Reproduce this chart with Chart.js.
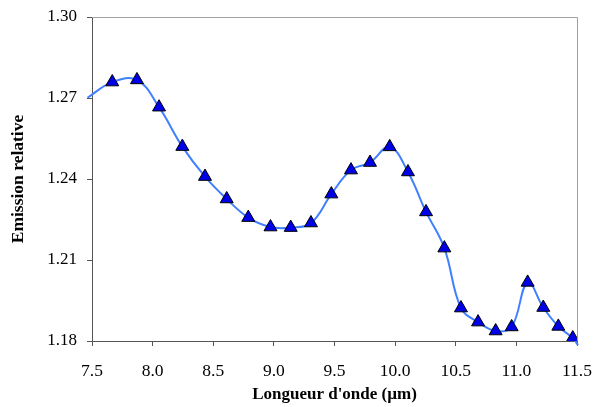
<!DOCTYPE html>
<html>
<head>
<meta charset="utf-8">
<script src="https://cdn.jsdelivr.net/npm/chart.js@4.4.1/dist/chart.umd.min.js"></script>
<style>
  html, body { margin: 0; padding: 0; background: #fff; }
  #wrap { width: 599px; height: 407px; }
</style>
</head>
<body>
<div id="wrap"><canvas id="chart-emission"></canvas></div>
<script>
/* données */
const longueurs = [7.667, 7.871, 8.053, 8.245, 8.432, 8.611, 8.789, 8.972, 9.139, 9.306,
                   9.474, 9.636, 9.793, 9.955, 10.106, 10.255, 10.406, 10.543, 10.684, 10.829,
                   10.961, 11.093, 11.222, 11.346, 11.465];
const emission  = [1.2759, 1.2767, 1.2666, 1.2520, 1.2409, 1.2326, 1.2257, 1.2222, 1.2220, 1.2237,
                   1.2344, 1.2433, 1.2461, 1.2519, 1.2426, 1.2278, 1.2144, 1.1922, 1.1870, 1.1837,
                   1.1852, 1.2017, 1.1924, 1.1854, 1.1811];
// extrémités de la courbe lissée (sans marqueur)
const courbeDebut = [7.463, 1.2701];
const courbeFin   = [11.508, 1.1785];

const yTicks = [1.18, 1.21, 1.24, 1.27, 1.30];
const xMin = 7.5, xMax = 11.5, xStep = 0.5;

const FONT = "'Liberation Serif', 'Times New Roman', serif";

const points = longueurs.map((x, i) => ({ x, y: emission[i] }));
const courbe = [{ x: courbeDebut[0], y: courbeDebut[1] }, ...points, { x: courbeFin[0], y: courbeFin[1] }];

/* ─── cadre haut / droite ─── */
const cadre = {
  id: 'cadre',
  beforeDatasetsDraw(chart) {
    const { ctx, chartArea: a } = chart;
    ctx.save();
    ctx.strokeStyle = '#a0a0a0';
    ctx.lineWidth = 1;
    ctx.beginPath();
    ctx.moveTo(a.left, a.top + 0.5);
    ctx.lineTo(a.right + 0.5, a.top + 0.5);
    ctx.lineTo(a.right + 0.5, a.bottom);
    ctx.stroke();
    ctx.restore();
  }
};

new Chart(document.getElementById('chart-emission'), {
  type: 'scatter',
  data: {
    datasets: [
      {
        label: 'courbe',
        data: courbe,
        showLine: true,
        borderColor: '#4080ff',
        borderWidth: 2,
        pointRadius: 0,
        tension: 0.4,
        clip: false,
        order: 2,
      },
      {
        label: 'mesures',
        data: points,
        pointStyle: 'triangle',
        pointRadius: 7.5,
        backgroundColor: '#0000e8',
        borderColor: '#000',
        borderWidth: 1,
        order: 1,
      }
    ]
  },
  options: {
    responsive: true,
    maintainAspectRatio: false,
    animation: false,
    layout: { padding: { left: 0, top: 17, right: 22, bottom: 1 } },
    plugins: { legend: { display: false }, tooltip: { enabled: false } },
    scales: {
      x: {
        type: 'linear',
        min: xMin, max: xMax,
        grid: { display: true, drawOnChartArea: false, drawTicks: true, tickLength: 5, color: '#555' },
        border: { color: '#555', width: 1 },
        ticks: {
          stepSize: xStep,
          padding: 15,
          color: '#000',
          font: { family: FONT, size: 17.5 },
          callback: v => v.toFixed(1)
        },
        title: {
          display: true,
          text: "Longueur d'onde (µm)",
          color: '#000',
          font: { family: FONT, size: 17, weight: 'bold' },
          padding: { top: 0, bottom: 1.5 }
        },
        afterFit: s => { s.height = 65; s.paddingLeft = 0; s.paddingRight = 0; }
      },
      y: {
        min: 1.18, max: 1.30,
        afterBuildTicks: s => { s.ticks = yTicks.map(v => ({ value: v })); },
        grid: { display: true, drawOnChartArea: false, drawTicks: true, tickLength: 5, color: '#555' },
        border: { color: '#555', width: 1 },
        ticks: {
          padding: 10,
          color: '#000',
          font: { family: FONT, size: 17 },
          callback: v => v.toFixed(2)
        },
        title: {
          display: true,
          text: 'Emission relative',
          color: '#000',
          font: { family: FONT, size: 17.5, weight: 'bold' },
          padding: { top: 7.5, bottom: 0 }
        },
        afterFit: s => { s.width = 92; s.paddingTop = 0; s.paddingBottom = 0; }
      }
    }
  },
  plugins: [cadre]
});
</script>
</body>
</html>
